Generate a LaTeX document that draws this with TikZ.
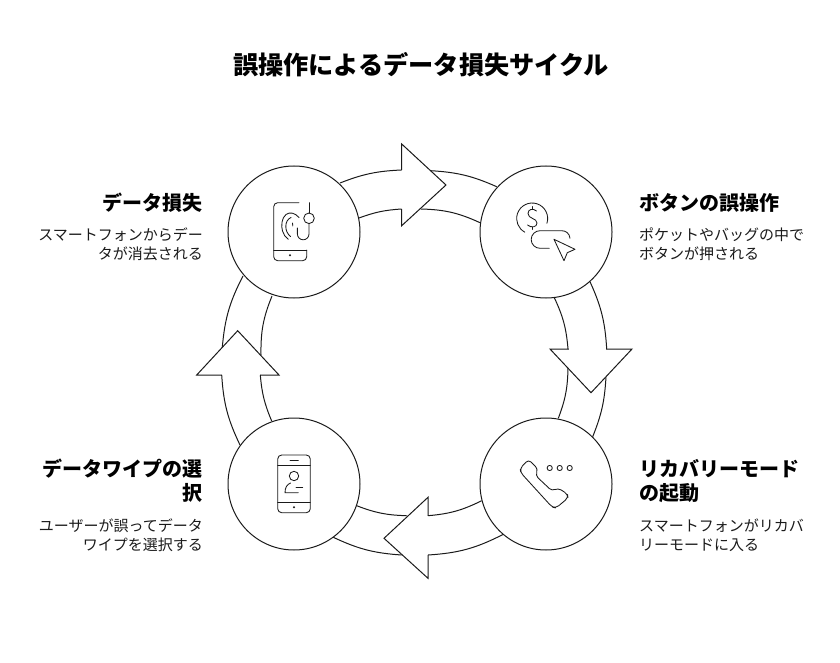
\documentclass[tikz,border=0pt]{standalone}
\usepackage{fontspec}
\setmainfont{Noto Sans CJK JP}
\definecolor{ink}{HTML}{1A1A1A}
\tikzset{
  band/.style={draw=ink,line width=1pt},
  headshape/.style={draw=ink,line width=1pt,fill=white,line join=miter},
  hub/.style={circle,draw=ink,line width=1pt,fill=white,minimum size=132pt,inner sep=0pt},
  icon/.style={draw=ink,line width=.85pt,line cap=round,line join=round},
  titletext/.style={font=\fontsize{25.2}{30}\selectfont\bfseries,text=black,inner sep=0pt},
  headr/.style={font=\fontsize{20}{24}\selectfont\bfseries,text=black,inner sep=0pt,align=right,anchor=north east},
  headl/.style={font=\fontsize{20}{24}\selectfont\bfseries,text=black,inner sep=0pt,align=left,anchor=north west},
  descr/.style={font=\fontsize{15}{18.5}\selectfont,text=ink,inner sep=0pt,align=right,anchor=north east},
  descl/.style={font=\fontsize{15}{18.5}\selectfont,text=ink,inner sep=0pt,align=left,anchor=north west},
}
\begin{document}
\begin{tikzpicture}[x=1pt,y=-1pt]
\useasboundingbox (0,0) rectangle (840,663);
% band end points
\coordinate (t1o) at (340,183);   \coordinate (t1i) at (359,218);
\coordinate (t2o) at (401.7,170); \coordinate (t2i) at (401.7,209);
\coordinate (t3o) at (430.7,170.7); \coordinate (t3i) at (421,209);
\coordinate (t4o) at (496.7,186.7); \coordinate (t4i) at (480,222.7);
\coordinate (r1o) at (590,281.7); \coordinate (r1i) at (554.3,297.7);
\coordinate (r2o) at (606.7,349); \coordinate (r2i) at (568,349);
\coordinate (r3o) at (606,376.7); \coordinate (r3i) at (568,368);
\coordinate (r4o) at (592.7,436.7); \coordinate (r4i) at (558.3,418.3);
\coordinate (b1o) at (503.3,534.3); \coordinate (b1i) at (481.7,500.7);
\coordinate (b2o) at (428,555); \coordinate (b2i) at (428,515.7);
\coordinate (b3o) at (401.7,555); \coordinate (b3i) at (406.7,515.7);
\coordinate (b4o) at (333.3,537.3); \coordinate (b4i) at (356.7,505.7);
\coordinate (l1o) at (240,445); \coordinate (l1i) at (271.7,421);
\coordinate (l2o) at (221.7,375); \coordinate (l2i) at (260.3,375);
\coordinate (l3o) at (222.3,347.3); \coordinate (l3i) at (261,355);
\coordinate (l4o) at (243,276); \coordinate (l4i) at (272,296);
% bands
\draw[band] (t3o) to[bend left=10.3] (t4o) (t3i) to[bend left=11.6] (t4i);
\draw[band] (r3o) to[bend left=9.3] (r4o) (r3i) to[bend left=9.8] (r4i);
\draw[band] (b3o) to[bend left=10.7] (b4o) (b3i) to[bend left=9.8] (b4i);
\draw[band] (l3o) to[bend left=11.2] (l4o) (l3i) to[bend left=11.5] (l4i);
% arrow heads
\draw[headshape] (401.7,144) -- (446,185) -- (401.7,225.7) -- cycle;
\draw[headshape] (550,349) -- (632,349) -- (591,392.7) -- cycle;
\draw[headshape] (428,497.3) -- (384,538.3) -- (428,578.3) -- cycle;
\draw[headshape] (196.7,375) -- (237.7,330.7) -- (279,375) -- cycle;
% white out the base of each head where the band enters
\draw[white,line width=1.8pt] (401.7,170.5) -- (401.7,208.5);
\draw[white,line width=1.8pt] (568.5,349) -- (606.2,349);
\draw[white,line width=1.8pt] (428,516.2) -- (428,554.5);
\draw[white,line width=1.8pt] (222.2,375) -- (259.8,375);
\draw[band] (t1o) to[bend left=9.5] (t2o) (t1i) to[bend left=8.3] (t2i);
\draw[band] (r1o) to[bend left=10.5] (r2o) (r1i) to[bend left=10.2] (r2i);
\draw[band] (b1o) to[bend left=11.8] (b2o) (b1i) to[bend left=10.7] (b2i);
\draw[band] (l1o) to[bend left=11] (l2o) (l1i) to[bend left=9] (l2i);
% hubs
\node[hub] (tl) at (294,232) {};
\node[hub] (tr) at (546,232) {};
\node[hub] (br) at (546,484) {};
\node[hub] (bl) at (294,484) {};
% icon: fingerprint phone
\draw[icon] (299,202.7) -- (277.7,202.7) arc[start angle=-90,end angle=-180,radius=4] -- (273.7,256.7)
  arc[start angle=180,end angle=90,radius=4] -- (302.7,260.7) arc[start angle=90,end angle=0,radius=4] -- (306.7,250);
\draw[icon] (273.7,250) -- (306.7,250);
\fill[ink] (290,255.3) circle[radius=1.1];
\draw[icon] (309,202.7) -- (309,213);
\draw[icon] (309,218.3) circle[radius=5.3];
\draw[icon] (309,223.6) -- (309,234) arc[start angle=0,end angle=180,radius=5.8] -- (297.4,228);
\draw[icon] (299,217.5) .. controls (295,213) and (290,211.5) .. (286,214.5) .. controls (281.5,218) and (281,226) .. (282.5,231) .. controls (283.5,234.5) and (285.5,237.5) .. (288.3,239.3);
\draw[icon] (291,217.5) .. controls (287.5,219) and (285.8,222.5) .. (285.8,226.5) .. controls (285.8,230.5) and (287.5,234) .. (290.5,236.5);
\draw[icon] (292.5,223) -- (292.8,226);
% icon: dollar and cursor
\draw[icon] (546.9,223.3) arc[start angle=18,end angle=-242,radius=15.5];
\draw[icon] (536.5,211) .. controls (533,208) and (528,209) .. (528,213.5) .. controls (528,219) and (537,218) .. (537,223) .. controls (537,227.5) and (531,228) .. (527.5,225);
\draw[icon] (532,206.5) -- (532,208.8) (532,227.2) -- (532,229.5);
\draw[icon] (570,238.3) .. controls (569.5,233.5) and (566,230.7) .. (561.7,230.7) -- (540,230.7) arc[start angle=-90,end angle=-270,radius=8.8] -- (549.3,248.3);
\draw[icon] (554,239.3) -- (575,249.3) -- (567.3,252.7) -- (564,260.7) -- cycle;
% icon: handset
\draw[icon,rounded corners=3.5pt] (528.5,459.5) -- (520,468.5) -- (521,473) -- (552,507) -- (556,508) -- (568,498) -- (567.5,494) -- (558,488) -- (552,491) -- (535.5,475.5) -- (538,469) -- cycle;
\draw[icon] (549.7,468) circle[radius=2.6] (559.7,468) circle[radius=2.6] (569.7,468) circle[radius=2.6];
% icon: contact phone
\draw[icon,rounded corners=4pt] (277.7,455) rectangle (310.3,512.7);
\draw[icon] (277.7,465) -- (310.3,465) (277.7,502.7) -- (310.3,502.7) (290,460) -- (298.3,460);
\fill[ink] (294,507.3) circle[radius=1.1];
\draw[icon] (294,476) circle[radius=4.7];
\draw[icon] (298.3,492.7) -- (285,492.7) .. controls (285,487.5) and (287,484.5) .. (290.5,483);
\draw[icon] (296,487.3) -- (302.7,487.3);
% texts
\node[titletext] (title) at (421,65) {誤操作によるデータ損失サイクル};
\node[headr] (h1) at (203,193) {データ損失};
\node[descr] (d1) at (203,228) {スマートフォンからデー\\タが消去される};
\node[headl] (h2) at (639,193) {ボタンの誤操作};
\node[descl] (d2) at (639,228) {ポケットやバッグの中で\\ボタンが押される};
\node[headl] (h3) at (639,459) {リカバリーモード\\の起動};
\node[descl] (d3) at (639,519) {スマートフォンがリカバ\\リーモードに入る};
\node[headr] (h4) at (203,459) {データワイプの選\\択};
\node[descr] (d4) at (203,519) {ユーザーが誤ってデータ\\ワイプを選択する};
\end{tikzpicture}
\end{document}
